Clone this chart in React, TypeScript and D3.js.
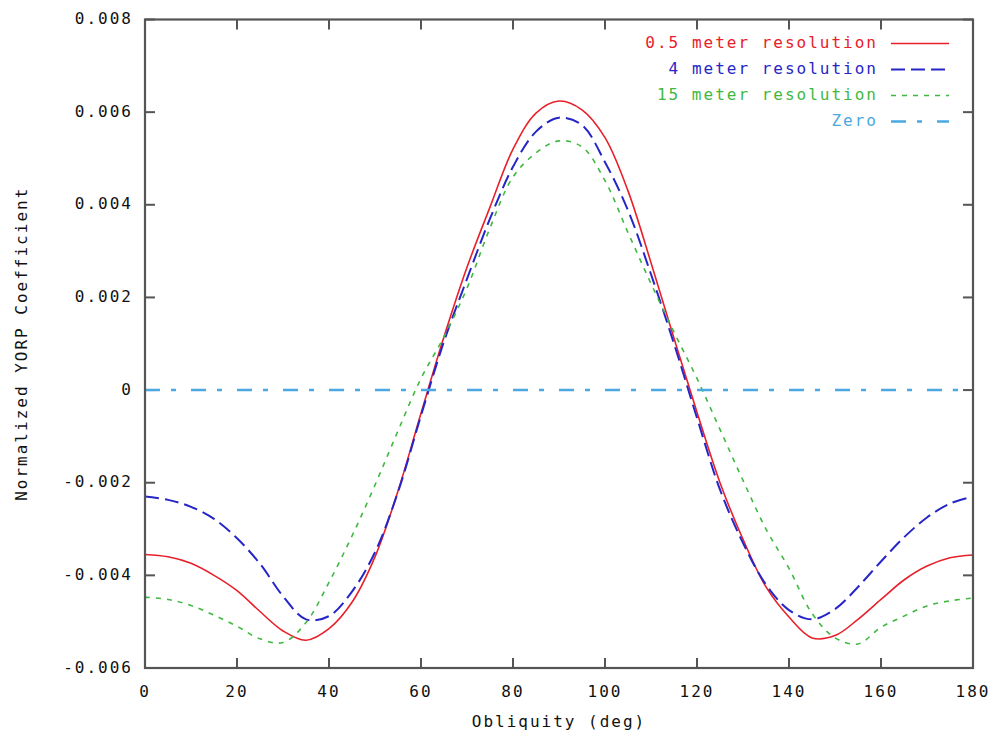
import * as d3 from 'd3';

// obliquity samples (deg)
const obliquity = [
  0, 5, 10, 15, 20, 25, 30, 35, 40, 45, 50, 55, 60, 65, 70, 75, 80, 85, 90,
  95, 100, 105, 110, 115, 120, 125, 130, 135, 140, 145, 150, 155, 160, 165, 170, 175, 180,
];

const res05 = [
  -0.00355, -0.0036, -0.00374, -0.004, -0.00433, -0.00478, -0.0052, -0.0054, -0.00515,
  -0.00458, -0.0036, -0.00218, -0.0005, 0.00115, 0.00265, 0.00395, 0.0052, 0.00598, 0.00624,
  0.00605, 0.00545, 0.0043, 0.00275, 0.00112, -0.00048, -0.002, -0.00322, -0.00425, -0.0049,
  -0.00535, -0.0053, -0.00495, -0.00452, -0.0041, -0.0038, -0.00362, -0.00356,
];

const res4 = [
  -0.0023, -0.00237, -0.00252, -0.00278, -0.0032, -0.00375, -0.00445, -0.00495, -0.00488,
  -0.00435, -0.0035, -0.0022, -0.00055, 0.00105, 0.0024, 0.0037, 0.00482, 0.00558, 0.00588,
  0.00572, 0.00492, 0.00388, 0.0025, 0.001, -0.0006, -0.00215, -0.0033, -0.0042, -0.00475,
  -0.00495, -0.00473, -0.00425, -0.0037, -0.00318, -0.00275, -0.00245, -0.0023,
];

const res15 = [
  -0.00447, -0.00452, -0.00465, -0.00486, -0.0051, -0.00537, -0.00545, -0.00502, -0.00415,
  -0.00315, -0.00205, -0.00088, 0.00025, 0.00115, 0.0022, 0.0035, 0.0046, 0.00512, 0.00538,
  0.00525, 0.00452, 0.0034, 0.0023, 0.00125, 0.00025, -0.00085, -0.00195, -0.003, -0.00385,
  -0.00482, -0.00535, -0.00548, -0.00512, -0.00488, -0.00466, -0.00455, -0.00449,
];

const xTicks = [0, 20, 40, 60, 80, 100, 120, 140, 160, 180];
const yTicks = [-0.006, -0.004, -0.002, 0, 0.002, 0.004, 0.006, 0.008];

const seriesNames = ['0.5 meter resolution', '4 meter resolution', '15 meter resolution', 'Zero'];
const seriesColors = ['#e8202a', '#2626c8', '#3fb83f', '#4aa8e2'];
const seriesDash = ['none', '14,6', '5,6', '15,11,5,15'];
const seriesWidth = [1.6, 2, 1.6, 2.5];

const W = 1001;
const H = 751;
const margin = { top: 19.5, right: 28, bottom: 83, left: 145 };
const font = "'DejaVu Sans Mono', monospace";

export default function App() {
  const x = d3.scaleLinear().domain([0, 180]).range([margin.left, W - margin.right]);
  const y = d3.scaleLinear().domain([-0.006, 0.008]).range([H - margin.bottom, margin.top]);

  const line = d3
    .line<number>()
    .x((_, i) => x(obliquity[i]))
    .y(d => y(d))
    .curve(d3.curveCatmullRom.alpha(0.5));

  const zero = obliquity.map(() => 0);
  const series = [res05, res4, res15, zero];

  const x0 = x(0), x1 = x(180), y0 = y(-0.006), y1 = y(0.008);
  const tick = 10;
  const fmtY = (v: number) => (v === 0 ? '0' : d3.format('.3f')(v).replace('−', '-'));

  return (
    <svg
      width={W}
      height={H}
      style={{ position: 'absolute', left: 0, top: 0, background: '#fff' }}
      fontFamily={font}
    >
      <rect width={W} height={H} fill="#fff" />
      <clipPath id="plot">
        <rect x={x0} y={y1} width={x1 - x0} height={y0 - y1} />
      </clipPath>

      {/* ticks on all four sides, inward */}
      <g stroke="#555" strokeWidth={2}>
        {xTicks.map(t => (
          <g key={'xt' + t}>
            <line x1={x(t)} x2={x(t)} y1={y0} y2={y0 - tick} />
            <line x1={x(t)} x2={x(t)} y1={y1} y2={y1 + tick} />
          </g>
        ))}
        {yTicks.map(t => (
          <g key={'yt' + t}>
            <line x1={x0} x2={x0 + tick} y1={y(t)} y2={y(t)} />
            <line x1={x1} x2={x1 - tick} y1={y(t)} y2={y(t)} />
          </g>
        ))}
      </g>

      <g clipPath="url(#plot)">
        {series.map((s, i) => (
          <path
            key={seriesNames[i]}
            d={line(s) || ''}
            fill="none"
            stroke={seriesColors[i]}
            strokeWidth={seriesWidth[i]}
            strokeDasharray={seriesDash[i]}
          />
        ))}
      </g>

      <rect x={x0} y={y1} width={x1 - x0} height={y0 - y1} fill="none" stroke="#555" strokeWidth={2.2} />

      <g fontSize={16} letterSpacing={2} fill="#111">
        {xTicks.map(t => (
          <text key={'xl' + t} x={x(t)} y={y0 + 24} textAnchor="middle" dominantBaseline="middle">
            {t}
          </text>
        ))}
        {yTicks.map(t => (
          <text key={'yl' + t} x={x0 - 12} y={y(t)} textAnchor="end" dominantBaseline="middle">
            {fmtY(t)}
          </text>
        ))}
        <text x={(x0 + x1) / 2} y={722} textAnchor="middle" dominantBaseline="middle">
          Obliquity (deg)
        </text>
        <text
          transform={`translate(22,${(y0 + y1) / 2}) rotate(-90)`}
          textAnchor="middle"
          dominantBaseline="middle"
        >
          Normalized YORP Coefficient
        </text>
      </g>

      <g fontSize={16} letterSpacing={2}>
        {seriesNames.map((n, i) => {
          const ly = 43.5 + i * 26;
          return (
            <g key={'lg' + n}>
              <text x={878} y={ly} textAnchor="end" dominantBaseline="middle" fill={seriesColors[i]}>
                {n}
              </text>
              <line
                x1={891}
                x2={949}
                y1={ly}
                y2={ly}
                stroke={seriesColors[i]}
                strokeWidth={seriesWidth[i]}
                strokeDasharray={seriesDash[i]}
              />
            </g>
          );
        })}
      </g>
    </svg>
  );
}
